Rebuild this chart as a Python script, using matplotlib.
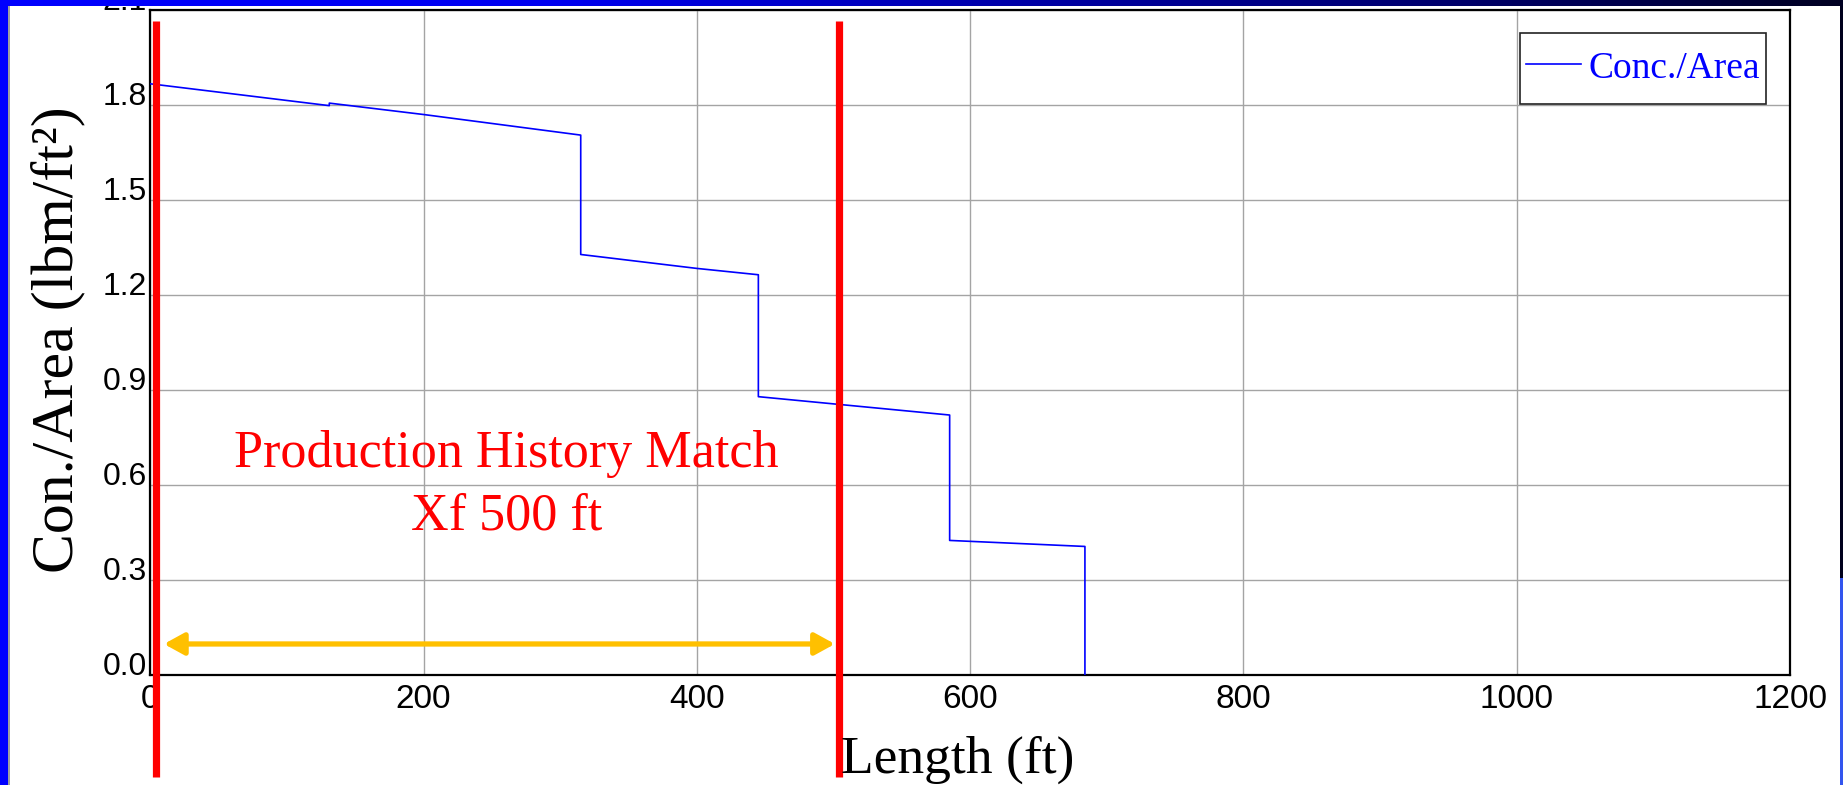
import numpy as np
import matplotlib.pyplot as plt
from matplotlib.colors import LinearSegmentedColormap
from matplotlib.patches import Rectangle

plt.rcParams['font.family'] = ['Liberation Sans', 'DejaVu Sans']

W, H = 1843, 785
DPI = 100

# proppant concentration per unit area along the fracture (step profile)
length_ft = [0, 131, 131, 200, 315, 315, 400, 445, 445, 585, 585, 684, 684]
conc_area = [1.866, 1.797, 1.805, 1.769, 1.704, 1.327, 1.283, 1.263, 0.878, 0.820, 0.424, 0.405, 0.0]
series_name = 'Conc./Area'

x_ticks = [0, 200, 400, 600, 800, 1000, 1200]
y_ticks = [0.0, 0.3, 0.6, 0.9, 1.2, 1.5, 1.8, 2.1]
y_tick_labels = ['0.0', '0.3', '0.6', '0.9', '1.2', '1.5', '1.8', '2.1']

# history-matched fracture half length
xf_start = 4
xf_length = 500
note_lines = ['Production History Match', f'Xf {xf_length} ft']


def fx(px):
    return px / W


def fy(py):
    return 1 - py / H


fig = plt.figure(figsize=(W / DPI, H / DPI), dpi=DPI)
fig.patch.set_facecolor('white')

ax = fig.add_axes([fx(150.3), fy(674.7), fx(1790 - 150.3), (674.7 - 9.7) / H])
ax.set_xlim(0, 1200)
ax.set_ylim(0, 2.1)
ax.set_xticks(x_ticks)
ax.set_xticklabels([str(v) for v in x_ticks])
ax.set_yticks(y_ticks)
ax.set_yticklabels(y_tick_labels)
ax.grid(True, color='#a4a4a4', lw=1.0)
ax.set_axisbelow(True)
for sp in ax.spines.values():
    sp.set_color('black')
    sp.set_linewidth(1.6)
ax.tick_params(axis='x', length=0, labelsize=24, pad=7)
ax.tick_params(axis='y', length=0, labelsize=23, pad=2.5)
for lab in ax.get_yticklabels():
    lab.set_verticalalignment('baseline')

line, = ax.plot(length_ft, conc_area, color='#0000ff', lw=1.2, label=series_name, zorder=3)

# fracture extent markers
y_top, y_bot = 2.064, -0.322
for xv in [xf_start, xf_start + xf_length]:
    ax.plot([xv, xv], [y_top, y_bot], color='#ff0000', lw=5.2, clip_on=False,
            solid_capstyle='butt', zorder=6)

ax.annotate('', xy=(xf_start + 6, 0.097), xytext=(xf_start + xf_length - 3, 0.097),
            arrowprops=dict(arrowstyle='<|-|>,head_length=0.6,head_width=0.33',
                            color='#ffc000', lw=3.8, shrinkA=0, shrinkB=0,
                            mutation_scale=20),
            zorder=5)

for txt, yv in zip(note_lines, [0.656, 0.457]):
    ax.text(260.6, yv, txt, color='#ff0000', ha='center', va='baseline',
            family='Liberation Serif', fontsize=37.5, zorder=4)

# legend box: tight at the sides, taller above and below the entry
leg = ax.legend(handles=[line], loc='upper right',
                bbox_to_anchor=(fx(1765.6), fy(45.4)), bbox_transform=fig.transFigure,
                borderaxespad=0, fancybox=False, edgecolor='#222222', framealpha=1,
                prop={'family': 'Liberation Serif', 'size': 27}, labelcolor='#0000ff',
                handlelength=1.47, handletextpad=0.19, borderpad=0.15)
frame = leg.get_frame()
frame.set_linewidth(1.2)
frame.set_boxstyle('square', pad=0.01)
frame.set_mutation_aspect(33)

fig.text(fx(58), fy(340), 'Con./Area (lbm/ft²)', rotation=90, ha='center', va='center',
         family='Liberation Serif', fontsize=43)
fig.text(fx(958), fy(773), 'Length (ft)', ha='center', va='baseline',
         family='Liberation Serif', fontsize=38.5)

# slide frame around the chart
fig.patches.append(Rectangle((0, 0), fx(8), 1, transform=fig.transFigure,
                             facecolor='#0000ff', edgecolor='none', zorder=10))
fig.patches.append(Rectangle((fx(8), 0), fx(2), 1, transform=fig.transFigure,
                             facecolor='#a0a0a0', edgecolor='none', zorder=10))
fig.patches.append(Rectangle((fx(1840), fy(578)), fx(3), 578 / H, transform=fig.transFigure,
                             facecolor='#00001c', edgecolor='none', zorder=10))
fig.patches.append(Rectangle((fx(1840), 0), fx(3), fy(578), transform=fig.transFigure,
                             facecolor='#3355ee', edgecolor='none', zorder=10))

band = fig.add_axes([0, fy(6), 1, 6 / H], zorder=20)
band_cmap = LinearSegmentedColormap.from_list(
    'band', [(0, '#0000ff'), (0.3, '#0000f0'), (0.55, '#0000a8'), (0.8, '#000068'), (1, '#000022')])
band.imshow(np.linspace(0, 1, 512)[None, :], cmap=band_cmap, aspect='auto',
            extent=[0, 1, 0, 1])
band.set_axis_off()

fig.savefig('out.png', dpi=DPI)
